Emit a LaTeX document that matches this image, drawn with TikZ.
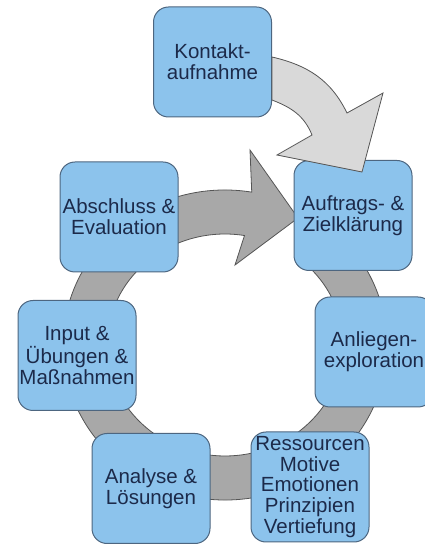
\documentclass[tikz,border=0pt]{standalone}
\usepackage{fontspec}
\setmainfont{Liberation Sans}
\definecolor{boxblue}{HTML}{8CC3EC}
\definecolor{boxedge}{HTML}{4D6680}
\definecolor{textnavy}{HTML}{1C2A4A}
\definecolor{ringgray}{HTML}{A8A8A8}
\definecolor{lightgray}{HTML}{D9D9D9}
\definecolor{edgegray}{HTML}{555555}
\begin{document}
\begin{tikzpicture}[x=1pt,y=1pt]
    % styles
    \tikzset{phase/.style={rectangle,rounded corners=15pt,draw=boxedge,line width=1pt,fill=boxblue,
        minimum width=118pt,minimum height=110pt,inner sep=0pt,align=center,text=textnavy,
        font=\fontsize{20.5}{20.7}\selectfont},
      bigarrow/.style={draw=edgegray,line width=0.8pt,line join=miter}}
    \useasboundingbox (0,0) rectangle (424,544);

    % ring with arrow head (behind the boxes)
    \begin{scope}[shift={(225,199)}]
        \draw[bigarrow,fill=ringgray] (80.5:162 and 155)
            arc[start angle=80.5,end angle=405,x radius=162,y radius=155]
            -- (405:118 and 111)
            arc[start angle=405,end angle=80.5,x radius=118,y radius=111]
            -- (10,80) -- (73,127) -- (25,195) -- cycle;
    \end{scope}

    % nodes
    \node[phase] (kontakt)    at (212.5,482) {Kontakt-\\aufnahme};
    \node[phase] (auftrag)    at (353,328.5) {Auftrags- \&\\Zielklärung};
    \node[phase] (anliegen)   at (374,192)   {Anliegen-\\exploration};
    \node[phase] (ressourcen) at (310,57)    {Ressourcen\\Motive\\Emotionen\\Prinzipien\\Vertiefung};
    \node[phase] (analyse)    at (151,55.5)  {Analyse \&\\Lösungen};
    \node[phase] (input)      at (77,188.5)  {Input \&\\Übungen \&\\Maßnahmen};
    \node[phase] (abschluss)  at (119,327)   {Abschluss \&\\Evaluation};

    % entry arrow from Kontaktaufnahme
    \draw[bigarrow,fill=lightgray] (kontakt.east |- 0,487) to[out=-13,in=116] (347,431)
        -- (383,451) -- (362,372) -- (277,389) -- (312,409)
        to[out=112,in=-21] (kontakt.east |- 0,444) -- cycle;
\end{tikzpicture}
\end{document}
